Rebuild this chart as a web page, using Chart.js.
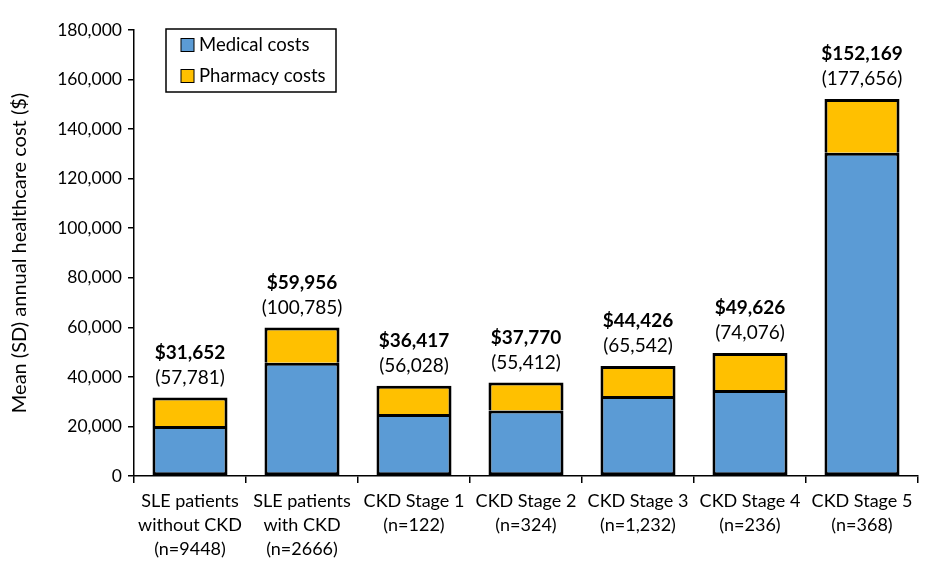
<!DOCTYPE html>
<html>
<head>
<meta charset="utf-8">
<script src="https://cdn.jsdelivr.net/npm/chart.js@4/dist/chart.umd.min.js"></script>
<style>
  html, body { margin: 0; padding: 0; background: #fff; }
  #wrap { width: 940px; height: 569px; }
</style>
</head>
<body>
<div id="wrap"><canvas id="costChart"></canvas></div>
<script>
const categories = [
    ['SLE patients', 'without CKD', '(n=9448)'],
    ['SLE patients', 'with CKD', '(n=2666)'],
    ['CKD Stage 1', '(n=122)'],
    ['CKD Stage 2', '(n=324)'],
    ['CKD Stage 3', '(n=1,232)'],
    ['CKD Stage 4', '(n=236)'],
    ['CKD Stage 5', '(n=368)']
];
const medicalCosts = [20200, 45700, 25000, 26400, 32300, 34700, 130500];
const pharmacyCosts = [11450, 14260, 11420, 11370, 12130, 14930, 21670];
const meanLabels = ['$31,652', '$59,956', '$36,417', '$37,770', '$44,426', '$49,626', '$152,169'];
const sdLabels = ['(57,781)', '(100,785)', '(56,028)', '(55,412)', '(65,542)', '(74,076)', '(177,656)'];

const FONT = 'Lato, "Open Sans", sans-serif';

// mean and SD written above each stack
const topLabels = {
    id: 'topLabels',
    afterDatasetsDraw(chart) {
        const c = chart.ctx;
        const meta = chart.getDatasetMeta(1);
        c.save();
        c.fillStyle = '#000';
        c.textAlign = 'center';
        c.textBaseline = 'middle';
        meta.data.forEach(function(bar, i) {
            c.font = 'bold 19px ' + FONT;
            c.fillText(meanLabels[i], bar.x, bar.y - 45);
            c.font = '19px ' + FONT;
            c.fillText(sdLabels[i], bar.x, bar.y - 20);
        });
        c.restore();
    }
};

// boxed legend sitting inside the plot, top left
const boxLegend = {
    id: 'boxLegend',
    afterDraw(chart) {
        const c = chart.ctx;
        const x0 = 166, y0 = 29;
        c.save();
        c.strokeStyle = '#000';
        c.lineWidth = 1.5;
        c.fillStyle = '#fff';
        c.fillRect(x0, y0, 170, 63);
        c.strokeRect(x0, y0, 170, 63);
        c.font = '18.5px ' + FONT;
        c.textBaseline = 'middle';
        chart.data.datasets.forEach(function(ds, i) {
            const y = y0 + 16 + i * 31;
            c.fillStyle = ds.backgroundColor;
            c.fillRect(x0 + 15, y - 6.5, 13, 13);
            c.strokeStyle = '#000';
            c.lineWidth = 1;
            c.strokeRect(x0 + 15, y - 6.5, 13, 13);
            c.fillStyle = '#000';
            c.fillText(ds.label, x0 + 33, y);
        });
        c.restore();
    }
};

new Chart(document.getElementById('costChart'), {
    type: 'bar',
    data: {
        labels: categories,
        datasets: [{
            label: 'Medical costs',
            data: medicalCosts,
            backgroundColor: '#5B9BD5',
            borderColor: '#000',
            borderWidth: 3,
            borderSkipped: false,
            inflateAmount: 0
        }, {
            label: 'Pharmacy costs',
            data: pharmacyCosts,
            backgroundColor: '#FFC000',
            borderColor: '#000',
            borderWidth: { top: 3, left: 3, right: 3, bottom: 0 },
            borderSkipped: false,
            inflateAmount: 0
        }]
    },
    options: {
        responsive: true,
        maintainAspectRatio: false,
        animation: false,
        layout: { padding: { top: 30, right: 22, left: 8, bottom: 0 } },
        datasets: { bar: { categoryPercentage: 1, barPercentage: 0.67 } },
        scales: {
            x: {
                stacked: true,
                border: { color: '#000', width: 1.5 },
                grid: { drawOnChartArea: false, drawTicks: true, tickLength: 7, color: '#000', lineWidth: 1.5 },
                ticks: { color: '#000', font: { family: FONT, size: 18, lineHeight: 1.33 }, maxRotation: 0, autoSkip: false, padding: 6 },
                afterFit(scale) { scale.height = 93; }
            },
            y: {
                stacked: true,
                min: 0,
                max: 180000,
                border: { color: '#000', width: 1.5 },
                grid: { drawOnChartArea: false, drawTicks: true, tickLength: 6, color: '#000', lineWidth: 1.5 },
                ticks: {
                    stepSize: 20000,
                    color: '#000',
                    font: { family: FONT, size: 17.5 },
                    padding: 6,
                    callback: function(v) { return v.toLocaleString('en-US'); }
                },
                title: {
                    display: true,
                    text: 'Mean (SD) annual healthcare cost ($)',
                    color: '#000',
                    font: { family: FONT, size: 20 },
                    padding: { top: 0, bottom: 4 }
                },
                afterFit(scale) { scale.width = 126; }
            }
        },
        plugins: {
            legend: { display: false },
            tooltip: { enabled: false }
        }
    },
    plugins: [topLabels, boxLegend]
});
</script>
</body>
</html>
